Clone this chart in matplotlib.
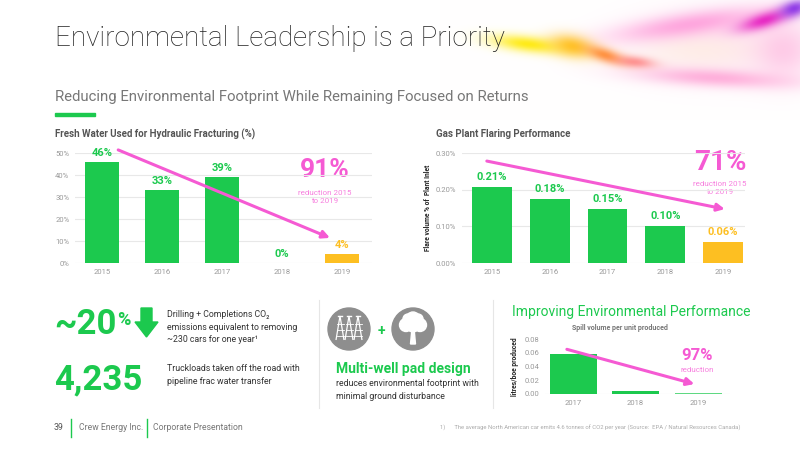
import numpy as np
import matplotlib.pyplot as plt
from matplotlib.patches import Circle, Polygon, Rectangle

plt.rcParams['font.family'] = ['Roboto', 'DejaVu Sans']

# data
water_years = ['2015', '2016', '2017', '2018', '2019']
water_pct = [46, 33, 39, 0, 4]
water_ticks = [0, 10, 20, 30, 40, 50]

flare_years = ['2015', '2016', '2017', '2018', '2019']
flare_pct = [0.207, 0.175, 0.147, 0.102, 0.058]
flare_labels = ['0.21%', '0.18%', '0.15%', '0.10%', '0.06%']
flare_ticks = [0.0, 0.1, 0.2, 0.3]

spill_years = ['2017', '2018', '2019']
spill_vol = [0.058, 0.004, 0.0015]
spill_ticks = [0.0, 0.02, 0.04, 0.06, 0.08]

GREEN = '#1cc94e'
LIGHT_GREEN = '#5fd982'
YELLOW = '#fdbf22'
PINK = '#f55ad3'
PINK_LIGHT = '#f77fde'
GRAY = '#9a9a9a'
DARK = '#555555'

W, H = 800, 450
fig = plt.figure(figsize=(8, 4.5), dpi=100)
bg = fig.add_axes([0, 0, 1, 1])
bg.axis('off')

# colourful blur in top right corner
gx, gy = np.meshgrid(np.linspace(440, 800, 360), np.linspace(0, 120, 120))
img = np.ones(gy.shape + (3,))
blobs = [  # x, y, sx, sy, angle, colour, strength
    (720, 45, 85, 35, 0.0, (1.0, 0.8, 0.9), 0.45),
    (700, 50, 60, 18, 0.0, (1.0, 0.94, 0.86), 0.5),
    (690, 24, 75, 12, -0.15, (1.0, 0.5, 0.82), 0.65),
    (715, 78, 75, 9, 0.05, (1.0, 0.55, 0.8), 0.65),
    (785, 50, 30, 30, 0.0, (1.0, 0.65, 0.85), 0.5),
    (528, 44, 36, 8, 0.12, (1.0, 0.92, 0.05), 0.95),
    (572, 46, 22, 11, 0.2, (1.0, 0.75, 0.1), 0.9),
    (605, 55, 20, 7, 0.3, (1.0, 0.52, 0.15), 0.85),
    (635, 62, 20, 6, 0.1, (1.0, 0.4, 0.4), 0.65),
    (765, 20, 26, 8, -0.3, (0.9, 0.1, 0.75), 0.9),
    (795, 8, 15, 8, -0.3, (0.5, 0.15, 0.9), 0.85),
]
for bx, by, sx, sy, a, col, s in blobs:
    dx, dy = gx - bx, gy - by
    u = dx * np.cos(a) + dy * np.sin(a)
    v = -dx * np.sin(a) + dy * np.cos(a)
    g = s * np.exp(-(u / sx) ** 2 - (v / sy) ** 2)
    for c in range(3):
        img[..., c] = img[..., c] * (1 - g) + col[c] * g
bg.imshow(img, extent=(440, 800, 120, 0), aspect='auto', zorder=0, interpolation='bilinear')
bg.set_xlim(0, W)
bg.set_ylim(H, 0)

# header
bg.text(55, 38, 'Environmental Leadership is a Priority', fontsize=20, weight='light',
        color='#222222', va='center')
bg.text(55, 97, 'Reducing Environmental Footprint While Remaining Focused on Returns',
        fontsize=10.7, color='#777777', va='center')
bg.add_patch(Rectangle((55, 112.5), 40, 3, color=GREEN))


def fig_rect(x0, x1, y0, y1):
    return [x0 / W, 1 - y0 / H, (x1 - x0) / W, (y0 - y1) / H]


def style(ax, ticks):
    for s in ax.spines.values():
        s.set_visible(False)
    ax.set_yticks(ticks)
    ax.grid(axis='y', color='#e8e8e8', lw=0.8)
    ax.set_axisbelow(True)
    ax.tick_params(length=0, labelsize=5.5, labelcolor=GRAY, pad=4)
    ax.patch.set_alpha(0)


arrow = dict(arrowstyle='-|>', color=PINK, lw=2.2, mutation_scale=11, shrinkA=0, shrinkB=0)

# chart 1 - fresh water
bg.text(55, 134, 'Fresh Water Used for Hydraulic Fracturing (%)', fontsize=7, weight='bold',
        color=DARK, va='center')
ax1 = fig.add_axes(fig_rect(75, 372, 263, 153))
x1 = np.arange(len(water_years))
c1 = [GREEN] * 4 + [YELLOW]
ax1.bar(x1, water_pct, width=0.58, color=c1)
ax1.set_xlim(-0.45, 4.5)
ax1.set_ylim(0, 50)
style(ax1, water_ticks)
ax1.set_yticklabels([f'{t}%' for t in water_ticks])
ax1.set_xticks(x1, water_years)
for xi, v, c in zip(x1, water_pct, c1):
    ax1.annotate(f'{v}%', (xi, v), xytext=(0, 3), textcoords='offset points', ha='center',
                 va='bottom', fontsize=8, weight='bold', color=c, annotation_clip=False)
ax1.annotate('', xy=(3.8, 11.4), xytext=(0.27, 51.4), arrowprops=arrow, annotation_clip=False)
bg.text(325, 170, '91%', fontsize=19, weight='bold', color=PINK, ha='center', va='center')
bg.text(325, 197, 'reduction 2015\nto 2019', fontsize=5.8, color=PINK_LIGHT, ha='center',
        va='center', linespacing=1.4)

# chart 2 - flaring
bg.text(436, 134, 'Gas Plant Flaring Performance', fontsize=7, weight='bold', color=DARK,
        va='center')
ax2 = fig.add_axes(fig_rect(462, 745, 263, 153))
x2 = np.arange(len(flare_years))
c2 = [GREEN] * 4 + [YELLOW]
ax2.bar(x2, flare_pct, width=0.69, color=c2)
ax2.set_xlim(-0.52, 4.38)
ax2.set_ylim(0, 0.3)
style(ax2, flare_ticks)
ax2.set_yticklabels([f'{t:.2f}%' for t in flare_ticks])
ax2.set_xticks(x2, flare_years)
ax2.set_ylabel('Flare volume % of  Plant Inlet', fontsize=4.8, weight='bold', color='#222222',
               labelpad=3)
for xi, v, lab, c in zip(x2, flare_pct, flare_labels, c2):
    ax2.annotate(lab, (xi, v), xytext=(0, 3.5), textcoords='offset points', ha='center',
                 va='bottom', fontsize=8, weight='bold', color=c, annotation_clip=False)
ax2.annotate('', xy=(4.03, 0.147), xytext=(-0.09, 0.278), arrowprops=arrow,
             annotation_clip=False)
bg.text(720, 162, '71%', fontsize=20, weight='bold', color=PINK, ha='center', va='center')
bg.text(720, 188, 'reduction 2015\nto 2019', fontsize=5.8, color=PINK_LIGHT, ha='center',
        va='center', linespacing=1.4)

# chart 3 - spills
bg.text(512, 312, 'Improving Environmental Performance', fontsize=10, color=GREEN,
        va='center')
bg.text(620, 328, 'Spill volume per unit produced', fontsize=5, weight='bold', color='#777777',
        ha='center', va='center')
ax3 = fig.add_axes(fig_rect(545, 730, 394, 339))
x3 = np.arange(len(spill_years))
ax3.bar(x3, spill_vol, width=0.75, color=[GREEN, GREEN, LIGHT_GREEN])
ax3.set_xlim(-0.45, 2.51)
ax3.set_ylim(0, 0.08)
style(ax3, spill_ticks)
ax3.grid(False)
ax3.axhline(0, color='#e0e0e0', lw=0.8, zorder=0)
ax3.set_yticklabels([f'{t:.2f}' for t in spill_ticks])
ax3.set_xticks(x3, spill_years)
ax3.set_ylabel('litres/boe produced', fontsize=4.8, weight='bold', color='#222222', labelpad=4)
ax3.annotate('', xy=(1.94, 0.0145), xytext=(-0.1, 0.065), arrowprops=arrow,
             annotation_clip=False)
bg.text(697, 356, '97%', fontsize=12, weight='bold', color=PINK, ha='center', va='center')
bg.text(697, 370, 'reduction', fontsize=5.8, color=PINK_LIGHT, ha='center', va='center')

# left stats block
bg.text(54, 324, '~20', fontsize=25, weight='bold', color=GREEN, va='center')
bg.text(117, 320, '%', fontsize=13, weight='bold', color=GREEN, va='center')
bg.add_patch(Polygon([(141, 308), (152, 308), (152, 322), (158, 322), (146.5, 337),
                      (135, 322), (141, 322)], closed=True, color=GREEN))
bg.text(167, 327, 'Drilling + Completions CO\u2082\nemissions equivalent to removing\n'
        '~230 cars for one year\u00b9', fontsize=6.3, color='#333333', va='center',
        linespacing=1.55)
bg.text(54, 380, '4,235', fontsize=25, weight='bold', color=GREEN, va='center')
bg.text(167, 375, 'Truckloads taken off the road with\npipeline frac water transfer',
        fontsize=6.3, color='#333333', va='center', linespacing=1.55)

# separators
for sx in (319, 493):
    bg.plot([sx, sx], [300, 408], color='#e6e6e6', lw=0.8)

# middle block - icons
for cx in (349, 413):
    bg.add_patch(Circle((cx, 329), 21, color='#8e8e8e'))
for dxx in (-9, 0, 9):
    bx = 349 + dxx
    bg.add_patch(Polygon([(bx - 4, 340), (bx, 316), (bx + 4, 340)], closed=False,
                         fill=False, ec='white', lw=0.9))
    for yy in (324, 330, 336):
        bg.plot([bx - 3.5, bx + 3.5], [yy, yy], color='white', lw=0.6)
    bg.plot([bx - 2, bx + 2], [316, 316], color='white', lw=1)
bg.text(381, 331, '+', fontsize=10, weight='bold', color=GREEN, ha='center', va='center')
for tx, ty, tr in [(413, 319, 7), (406, 325, 6.5), (420, 325, 6.5), (408, 319, 5),
                   (418, 319, 5), (413, 326, 6)]:
    bg.add_patch(Circle((tx, ty), tr, color='white'))
bg.add_patch(Polygon([(410.5, 344), (412, 328), (414, 328), (415.5, 344)], closed=True,
                     color='white'))
bg.text(336, 369, 'Multi-well pad design', fontsize=10, weight='bold', color=GREEN,
        va='center')
bg.text(336, 390, 'reduces environmental footprint with\nminimal ground disturbance',
        fontsize=6.3, color='#333333', va='center', linespacing=1.55)

# footer
bg.text(58, 428, '39', fontsize=6.3, color='#555555', va='center', ha='center')
for lx in (71, 147):
    bg.plot([lx, lx], [419, 437], color=GREEN, lw=1)
bg.text(79, 428, 'Crew Energy Inc.', fontsize=6.2, color='#777777', va='center')
bg.text(153, 428, 'Corporate Presentation', fontsize=6.2, color='#777777', va='center')
bg.text(440, 428, '1)      The average North American car emits 4.6 tonnes of CO2 per year '
        '(Source:  EPA / Natural Resources Canada)', fontsize=4.2, color='#aaaaaa',
        va='center')

fig.savefig('out.png', dpi=100)
